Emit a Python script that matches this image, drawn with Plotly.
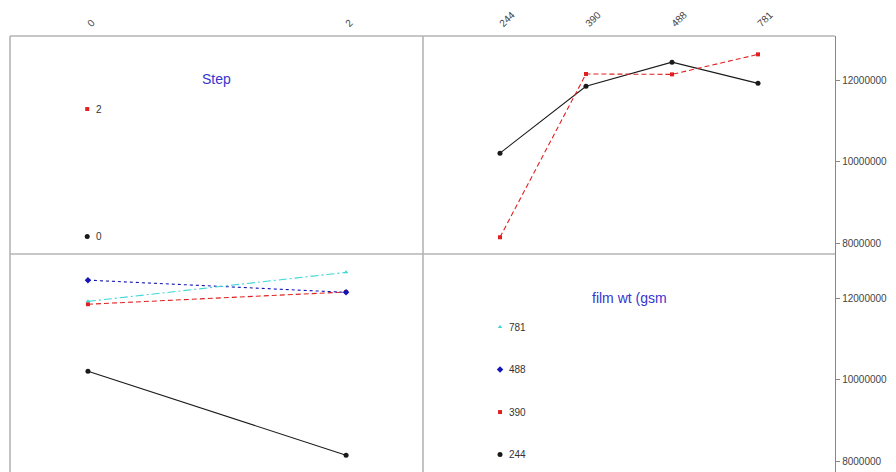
import plotly.graph_objects as go

# ---------------- data ----------------
steps = ["0", "2"]
film_wts = ["244", "390", "488", "781"]
# mean response for each Step level across film wt levels
mean_step0 = [10.21e6, 11.85e6, 12.44e6, 11.92e6]
mean_step2 = [8.15e6, 12.15e6, 12.14e6, 12.63e6]
y_ticks = [8000000, 10000000, 12000000]
step_title = "Step"
film_title = "film wt (gsm"

means = {"0": mean_step0, "2": mean_step2}

# ---------------- styles ----------------
step_styles = {
    "0": dict(color="#1a1a1a", dash="solid", symbol="circle", size=5),
    "2": dict(color="#E02020", dash="5px,3px", symbol="square", size=4),
}
film_styles = {
    "244": dict(color="#1a1a1a", dash="solid", symbol="circle", size=5),
    "390": dict(color="#E02020", dash="5px,3px", symbol="square", size=4),
    "488": dict(color="#1515B5", dash="dot", symbol="diamond", size=5),
    "781": dict(color="#3ED6D6", dash="8px,3px,2px,3px", symbol="triangle-up", size=4),
}

# page body has an 8px margin, so the figure starts at (8, 8) in the window
OFF = 8
W, H = 896 - OFF, 472 - OFF
FONT = "Arial, Liberation Sans, sans-serif"


def fx(p):
    return (p - OFF) / W


def fy(p):
    return 1 - (p - OFF) / H


left_dom = [fx(10), fx(423)]
right_dom = [fx(423), fx(835)]
top_dom = [fy(254), fy(36)]
bot_dom = [0, fy(254)]
y_range = [7.74e6, 13.08e6]

fig = go.Figure()

# empty carriers so the key panels still draw their axes
fig.add_trace(go.Scatter(
    x=steps, y=[None] * len(steps), xaxis="x", yaxis="y", mode="markers",
    showlegend=False, hoverinfo="skip"))
fig.add_trace(go.Scatter(
    x=[None], y=[None], xaxis="x4", yaxis="y4", mode="markers",
    showlegend=False, hoverinfo="skip"))

# top-right: response vs film wt, one line per Step
for s in steps:
    st = step_styles[s]
    fig.add_trace(go.Scatter(
        x=film_wts, y=means[s], xaxis="x2", yaxis="y2", mode="lines+markers",
        line=dict(color=st["color"], dash=st["dash"], width=1.1),
        marker=dict(color=st["color"], symbol=st["symbol"], size=st["size"]),
        showlegend=False, hoverinfo="x+y"))

# bottom-left: response vs Step, one line per film wt
for j, f in enumerate(film_wts):
    st = film_styles[f]
    fig.add_trace(go.Scatter(
        x=steps, y=[means[s][j] for s in steps], xaxis="x3", yaxis="y3",
        mode="lines+markers",
        line=dict(color=st["color"], dash=st["dash"], width=1.1),
        marker=dict(color=st["color"], symbol=st["symbol"], size=st["size"]),
        showlegend=False, hoverinfo="x+y"))


# legend panels (key drawn in panel-fraction space)
def key(levels, styles, xa, ya):
    n = len(levels)
    for i, lev in enumerate(reversed(levels)):
        yy = 1 - (0.335 + i * (0.92 - 0.335) / (n - 1))
        st = styles[lev]
        fig.add_trace(go.Scatter(
            x=[0.187], y=[yy], xaxis=xa, yaxis=ya, mode="markers",
            marker=dict(color=st["color"], symbol=st["symbol"], size=st["size"]),
            showlegend=False, hoverinfo="skip"))
        fig.add_annotation(text=lev, xref=xa, yref=ya, x=0.187, y=yy,
                           xanchor="left", xshift=7, showarrow=False,
                           font=dict(size=10, color="#333", family=FONT))


key(steps, step_styles, "x5", "y5")
key(film_wts, film_styles, "x6", "y6")

hidden = dict(visible=False, range=[0, 1], fixedrange=True)
tickfont = dict(size=10, color="#444", family=FONT)
ytickfont = dict(size=10, color="#444", family=FONT)

fig.update_layout(
    width=W, height=H, margin=dict(l=0, r=0, t=0, b=0, autoexpand=False),
    paper_bgcolor="white", plot_bgcolor="rgba(0,0,0,0)",
    font=dict(family=FONT),
    xaxis=dict(domain=left_dom, anchor="y", type="category", categoryarray=steps,
               range=[-0.302, 1.298], side="top", tickangle=-45,
               tickfont=tickfont, showgrid=False, zeroline=False, ticks="",
               ticklabelstandoff=4, automargin=False),
    yaxis=dict(domain=top_dom, anchor="x", range=y_range, showticklabels=False,
               showgrid=False, zeroline=False, automargin=False),
    xaxis2=dict(domain=right_dom, anchor="y2", type="category", categoryarray=film_wts,
                range=[-0.895, 3.895], side="top", tickangle=-45, tickfont=tickfont,
                showgrid=False, zeroline=False, ticks="", ticklabelstandoff=4,
                automargin=False),
    yaxis2=dict(domain=top_dom, anchor="x2", range=y_range, side="right",
                tickvals=y_ticks, tickformat="d", tickfont=ytickfont,
                ticks="outside", ticklen=4, tickcolor="#888",
                showline=True, linecolor="#888", linewidth=1.3,
                showgrid=False, zeroline=False, automargin=False),
    xaxis3=dict(domain=left_dom, anchor="y3", type="category", categoryarray=steps,
                range=[-0.302, 1.298], showticklabels=False, showgrid=False,
                zeroline=False, ticks="", automargin=False),
    yaxis3=dict(domain=bot_dom, anchor="x3", range=y_range, showticklabels=False,
                showgrid=False, zeroline=False, automargin=False),
    xaxis4=dict(domain=right_dom, anchor="y4", range=[0, 1], showticklabels=False,
                showgrid=False, zeroline=False, ticks="", automargin=False),
    yaxis4=dict(domain=bot_dom, anchor="x4", range=y_range, side="right",
                tickvals=y_ticks, tickformat="d", tickfont=ytickfont,
                ticks="outside", ticklen=4, tickcolor="#888",
                showline=True, linecolor="#888", linewidth=1.3,
                showgrid=False, zeroline=False, automargin=False),
    xaxis5=dict(domain=left_dom, anchor="y5", **hidden),
    yaxis5=dict(domain=top_dom, anchor="x5", **hidden),
    xaxis6=dict(domain=right_dom, anchor="y6", **hidden),
    yaxis6=dict(domain=bot_dom, anchor="x6", **hidden),
)

# legend titles
title_font = dict(size=14, color="#3535D0", family=FONT)
fig.add_annotation(text=step_title, xref="x5", yref="y5", x=0.5, y=1 - 0.197,
                   showarrow=False, font=title_font)
fig.add_annotation(text=film_title, xref="x6", yref="y6", x=0.5, y=1 - 0.202,
                   showarrow=False, font=title_font)

# panel frame lines
border = dict(color="#b4b4b4", width=1.6)
fig.add_shape(type="line", xref="paper", yref="paper", x0=left_dom[0], x1=right_dom[1],
              y0=top_dom[1], y1=top_dom[1], line=border)
fig.add_shape(type="line", xref="paper", yref="paper", x0=left_dom[0], x1=right_dom[1],
              y0=top_dom[0], y1=top_dom[0], line=border)
fig.add_shape(type="line", xref="paper", yref="paper", x0=left_dom[0], x1=left_dom[0],
              y0=0, y1=top_dom[1], line=border)
fig.add_shape(type="line", xref="paper", yref="paper", x0=left_dom[1], x1=left_dom[1],
              y0=0, y1=top_dom[1], line=border)

fig.write_html("out.html")
